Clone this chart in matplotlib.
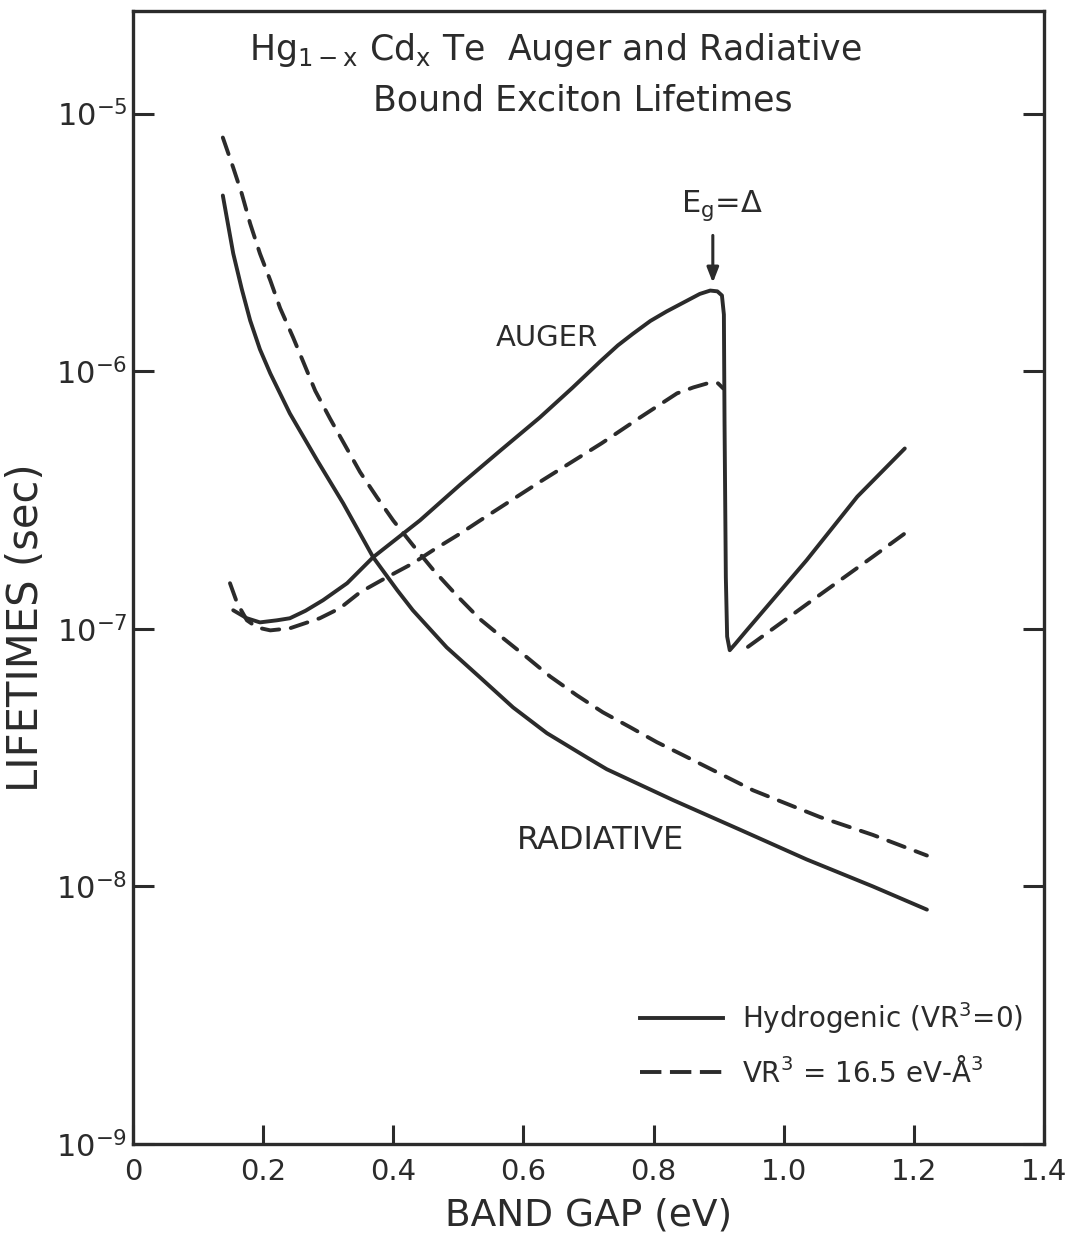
import numpy as np
import matplotlib
matplotlib.use('Agg')
import matplotlib.pyplot as plt
from matplotlib.ticker import NullLocator

plt.rcParams['font.family'] = ['DejaVu Sans']
plt.rcParams['mathtext.fontset'] = 'dejavusans'

ink = '#2b2b2b'

# band gap (eV) and log10(lifetime / s)
# radiative, hydrogenic (solid)
gap_rad_h = [0.138, 0.154, 0.167, 0.180, 0.195, 0.211, 0.241, 0.283, 0.323, 0.369, 0.406, 0.43,
             0.482, 0.533, 0.584, 0.636, 0.698, 0.728, 0.83, 0.933, 1.035, 1.137, 1.22]
log_rad_h = [-5.318, -5.543, -5.68, -5.803, -5.915, -6.009, -6.164, -6.346, -6.513, -6.722, -6.85, -6.928,
             -7.072, -7.188, -7.305, -7.405, -7.50, -7.545, -7.665, -7.78, -7.895, -8.0, -8.09]

# radiative, VR^3 = 16.5 (dashed)
gap_rad_v = [0.138, 0.154, 0.167, 0.18, 0.195, 0.211, 0.226, 0.246, 0.261, 0.28, 0.303,
             0.323, 0.349, 0.375, 0.40, 0.43, 0.461, 0.498, 0.533, 0.569, 0.605, 0.641,
             0.682, 0.722, 0.764, 0.805, 0.845, 0.953, 1.056, 1.137, 1.22]
log_rad_v = [-5.093, -5.21, -5.31, -5.427, -5.543, -5.648, -5.755, -5.869, -5.96, -6.076, -6.185,
             -6.275, -6.392, -6.49, -6.58, -6.675, -6.77, -6.872, -6.962, -7.037, -7.11, -7.185,
             -7.258, -7.324, -7.382, -7.44, -7.49, -7.627, -7.731, -7.80, -7.88]

# Auger, hydrogenic (solid)
gap_aug_h = [0.154, 0.175, 0.195, 0.221, 0.241, 0.265, 0.292, 0.329, 0.369, 0.441, 0.503,
             0.565, 0.625, 0.675, 0.718, 0.745, 0.768, 0.795, 0.82, 0.871, 0.887, 0.898, 0.905,
             0.908, 0.909, 0.911, 0.913, 0.917, 0.925, 0.943, 1.035, 1.113, 1.186]
log_aug_h = [-6.928, -6.959, -6.975, -6.967, -6.959, -6.93, -6.889, -6.823, -6.722, -6.579, -6.44,
             -6.307, -6.18, -6.065, -5.962, -5.9, -5.855, -5.805, -5.768, -5.70, -5.687, -5.69, -5.706,
             -5.78, -6.2, -6.8, -7.03, -7.083, -7.06, -7.006, -6.734, -6.487, -6.30]

# Auger, VR^3 = 16.5 (dashed), below and above E_g = Delta
gap_aug_v = [0.149, 0.16, 0.175, 0.191, 0.211, 0.241, 0.287, 0.318, 0.349, 0.39, 0.43,
             0.461, 0.503, 0.533, 0.625, 0.72, 0.779, 0.836, 0.861, 0.887, 0.899, 0.907]
log_aug_v = [-6.823, -6.90, -6.967, -6.995, -7.006, -6.998, -6.959, -6.92, -6.858, -6.80, -6.746,
             -6.695, -6.63, -6.58, -6.43, -6.28, -6.18, -6.086, -6.063, -6.044, -6.047, -6.067]
gap_aug_v2 = [0.945, 1.045, 1.137, 1.199]
log_aug_v2 = [-7.07, -6.887, -6.72, -6.606]

fig = plt.figure(figsize=(10.78, 12.43), dpi=100)
ax = fig.add_axes([0.1234, 0.0796, 0.8451, 0.9115])

lw = 2.8
dash = (4.5, 3.0)
ax.plot(gap_rad_h, 10**np.array(log_rad_h), color=ink, lw=lw, solid_capstyle='round',
        solid_joinstyle='round')
ax.plot(gap_aug_h, 10**np.array(log_aug_h), color=ink, lw=lw, solid_capstyle='round',
        solid_joinstyle='round')
ax.plot(gap_rad_v, 10**np.array(log_rad_v), color=ink, lw=lw, dashes=dash, dash_capstyle='round')
ax.plot(gap_aug_v, 10**np.array(log_aug_v), color=ink, lw=lw, dashes=dash, dash_capstyle='round')
ax.plot(gap_aug_v2, 10**np.array(log_aug_v2), color=ink, lw=lw, dashes=dash, dash_capstyle='round')

ax.set_yscale('log')
ax.set_xlim(0, 1.4)
ax.set_ylim(1e-9, 2.5e-5)

ax.set_xticks([0, 0.2, 0.4, 0.6, 0.8, 1.0, 1.2, 1.4])
ax.set_xticklabels(['0', '0.2', '0.4', '0.6', '0.8', '1.0', '1.2', '1.4'])
ax.set_yticks([1e-9, 1e-8, 1e-7, 1e-6, 1e-5])
ax.set_yticklabels(['10$^{-9}$', '10$^{-8}$', '10$^{-7}$', '10$^{-6}$', '10$^{-5}$'])
ax.yaxis.set_minor_locator(NullLocator())
ax.xaxis.set_minor_locator(NullLocator())

ax.tick_params(axis='x', direction='in', length=14, width=2.2, pad=10,
               labelsize=21, colors=ink, top=False)
ax.tick_params(axis='y', direction='in', length=15, width=2.2, pad=4,
               labelsize=22, colors=ink, right=True)
for sp in ax.spines.values():
    sp.set_linewidth(2.4)
    sp.set_color(ink)

ax.set_xlabel('BAND GAP (eV)', fontsize=27, color=ink, labelpad=8)
ax.set_ylabel('LIFETIMES (sec)', fontsize=30, color=ink)
ax.yaxis.set_label_coords(-0.094, 0.456)

# title block
ax.text(0.464, 0.9656, 'Hg$_{\\mathrm{1-x}}$ Cd$_{\\mathrm{x}}$ Te  Auger and Radiative',
        transform=ax.transAxes, ha='center', va='center', fontsize=25, color=ink)
ax.text(0.494, 0.9214, 'Bound Exciton Lifetimes', transform=ax.transAxes,
        ha='center', va='center', fontsize=25, color=ink)

# labels on the curves
ax.text(0.636, 1.34e-6, 'AUGER', ha='center', va='center', fontsize=21, color=ink)
ax.text(0.718, 1.51e-8, 'RADIATIVE', ha='center', va='center', fontsize=23, color=ink)
ax.text(0.905, 4.4e-6, 'E$_{\\mathrm{g}}$=$\\Delta$', ha='center', va='center',
        fontsize=22, color=ink)
ax.annotate('', xy=(0.891, 2.15e-6), xytext=(0.891, 3.45e-6),
            arrowprops=dict(arrowstyle='-|>,head_length=0.9,head_width=0.35',
                            color=ink, lw=2.2))

# legend, drawn by hand
ax.plot([0.5565, 0.6476], [0.1112, 0.1112], transform=ax.transAxes, color=ink, lw=lw)
ax.plot([0.5565, 0.6476], [0.0635, 0.0635], transform=ax.transAxes, color=ink, lw=lw,
        dashes=(5.5, 2.2))
ax.text(0.6685, 0.1112, 'Hydrogenic (VR$^3$=0)', transform=ax.transAxes,
        ha='left', va='center', fontsize=20, color=ink)
ax.text(0.6685, 0.0635, 'VR$^3$ = 16.5 eV-Å$^3$', transform=ax.transAxes,
        ha='left', va='center', fontsize=20, color=ink)

fig.savefig('out.png', dpi=100)
